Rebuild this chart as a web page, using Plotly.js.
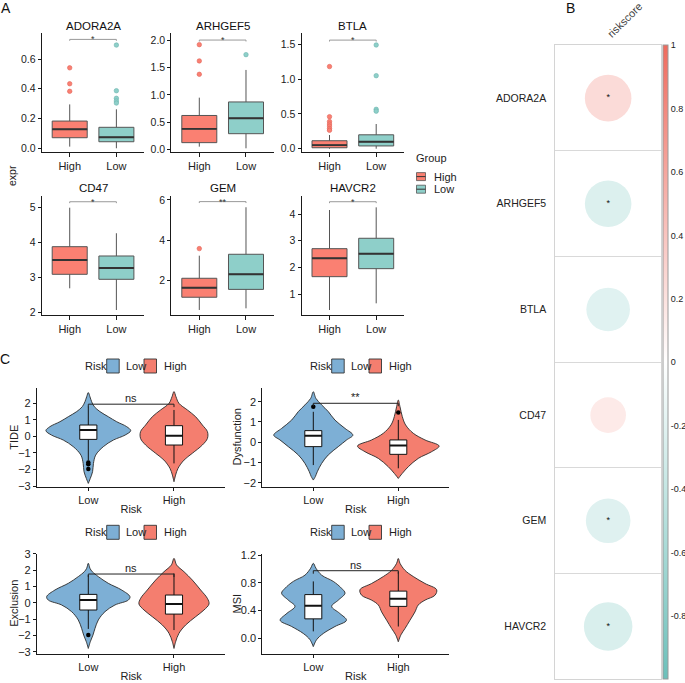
<!DOCTYPE html>
<html><head><meta charset="utf-8">
<script src="https://cdn.plot.ly/plotly-3.0.1.min.js"></script>
<style>html,body{margin:0;padding:0;background:#fff}#plot{width:685px;height:683px}</style>
</head><body><div id="plot"></div><script>
const W=685,H=683;
const FONT='Liberation Sans, Arial, Helvetica, sans-serif';

// ---------- Panel A data ----------
const genes=['ADORA2A','ARHGEF5','BTLA','CD47','GEM','HAVCR2'];
const groups=['High','Low'];
const highQ1=[0.071,0.122,0.014,3.097,1.18,1.65];
const highMed=[0.128,0.374,0.053,3.506,1.65,2.34];
const highQ3=[0.183,0.622,0.115,3.886,2.12,2.70];
const highLo=[0.011,0.048,0.0,2.697,0.55,0.40];
const highHi=[0.295,0.95,0.197,5.0,3.24,4.15];
const highOut=[[0.541,0.434,0.383],[1.926,1.626,1.38],[1.18,0.46,0.39,0.355,0.325,0.29,0.264],[],[3.59],[]];
const lowQ1=[0.044,0.287,0.04,2.954,1.57,1.95];
const lowMed=[0.074,0.571,0.10,3.277,2.32,2.51];
const lowQ3=[0.141,0.871,0.20,3.62,3.31,3.09];
const lowLo=[0.0,0.018,0.0,2.077,0.63,0.65];
const lowHi=[0.262,1.46,0.355,4.27,5.64,4.25];
const lowOut=[[0.694,0.387,0.336,0.318,0.304],[1.742],[1.49,1.049,0.566,0.54],[],[],[]];
const sigA=['*','*','*','*','**','*'];
const sigAY=[0.732,2.01,1.56,5.17,5.92,4.46];

// ---------- Panel B data ----------
const riskCorr=[0.24,-0.24,-0.21,0.14,-0.22,-0.26];
const riskSig=['*','*','','','*','*'];
const corrTicks=[1,0.8,0.6,0.4,0.2,0,-0.2,-0.4,-0.6,-0.8,-1];

// ---------- Panel C data ----------
const cMetrics=['TIDE','Dysfunction','Exclusion','MSI'];
const cGroups=['Low','High'];
const tideLowY=[2.65,2.40,2.10,1.80,1.50,1.19,0.89,0.59,0.35,0.08,-0.22,-0.62,-1.13,-1.63,-2.13,-2.54,-2.84];
const tideLowW=[0,0.019,0.039,0.070,0.136,0.234,0.331,0.448,0.495,0.429,0.292,0.175,0.086,0.060,0.050,0.023,0];
const tideHighY=[2.71,2.40,2.00,1.60,1.19,0.69,0.29,-0.12,-0.52,-1.02,-1.43,-1.93,-2.33,-2.74];
const tideHighW=[0,0.023,0.058,0.156,0.253,0.331,0.39,0.39,0.331,0.214,0.117,0.047,0.019,0];
const dysLowY=[2.49,2.16,1.84,1.51,1.09,0.68,0.35,0.11,-0.22,-0.63,-1.05,-1.46,-1.70,-1.87];
const dysLowW=[0,0.031,0.098,0.176,0.255,0.373,0.465,0.392,0.294,0.176,0.098,0.047,0.024,0];
const dysHighY=[2.08,1.75,1.26,0.85,0.44,0.11,-0.19,-0.47,-0.80,-1.21,-1.54,-1.79];
const dysHighW=[0,0.020,0.047,0.086,0.176,0.314,0.48,0.392,0.235,0.118,0.047,0];
const exLowY=[2.43,2.12,1.91,1.61,1.20,0.79,0.38,0.17,-0.13,-0.54,-1.05,-1.57,-1.98,-2.39,-2.80];
const exLowW=[0,0.019,0.047,0.117,0.233,0.389,0.486,0.467,0.311,0.195,0.117,0.078,0.054,0.023,0];
const exHighY=[2.73,2.32,1.91,1.40,0.79,0.28,-0.07,-0.44,-0.85,-1.36,-1.87,-2.39,-2.80];
const exHighW=[0,0.031,0.117,0.214,0.311,0.389,0.409,0.350,0.253,0.136,0.058,0.019,0];
const msiLowY=[1.08,1.01,0.91,0.82,0.72,0.65,0.55,0.46,0.36,0.26,0.17,0.07,-0.02,-0.12];
const msiLowW=[0,0.031,0.098,0.235,0.333,0.373,0.294,0.216,0.31,0.39,0.255,0.118,0.039,0];
const msiHighY=[1.15,1.08,0.98,0.89,0.79,0.70,0.62,0.55,0.48,0.38,0.26,0.14,0.05,-0.05];
const msiHighW=[0,0.020,0.078,0.176,0.314,0.451,0.431,0.314,0.235,0.196,0.137,0.078,0.031,0];
const lowQ1C=[-0.18,-0.22,-0.44,0.28];
const lowMedC=[0.39,0.32,0.17,0.47];
const lowQ3C=[0.69,0.57,0.52,0.63];
const lowLoC=[-1.45,-1.13,-1.60,0.10];
const lowHiC=[1.80,1.50,1.71,0.82];
const lowOutC=[[-1.58,-1.68,-1.97],[1.75],[-1.98],[]];
const highQ1C=[-0.52,-0.60,-0.69,0.46];
const highMedC=[0.04,-0.17,-0.07,0.57];
const highQ3C=[0.65,0.11,0.48,0.68];
const highLoC=[-1.63,-1.29,-1.67,0.17];
const highHiC=[1.60,1.10,1.81,0.96];
const highOutC=[[],[1.47],[],[]];
const sigC=['ns','**','ns','ns'];
const sigCY=[1.95,1.92,1.77,0.974];

// ---------- styles ----------
const A_COL={High:'#FA8072',Low:'#8ECFC9'};
const A_OUT={High:'#E0645A',Low:'#6DB5AE'};
const C_COL={Low:'#7DAFD5',High:'#F47E6F'};
const INK='#1a1a1a';

const data=[];
const layout={width:W,height:H,margin:{l:0,r:0,t:0,b:0},paper_bgcolor:'#fff',plot_bgcolor:'rgba(0,0,0,0)',
  showlegend:false,font:{family:FONT,size:11,color:'#222'},shapes:[],annotations:[]};
const baseAx={showline:true,linecolor:INK,linewidth:1,ticks:'outside',ticklen:3,tickwidth:1,tickcolor:INK,
  showgrid:false,zeroline:false,fixedrange:true,tickfont:{size:10.5,color:'#222',family:FONT}};
function sfx(n){return n===1?'':String(n);}
function addAxes(n,xpx,ypx,xo,yo){
  layout['xaxis'+sfx(n)]=Object.assign({},baseAx,{domain:[xpx[0]/W,xpx[1]/W],anchor:'y'+sfx(n)},xo);
  layout['yaxis'+sfx(n)]=Object.assign({},baseAx,{domain:[1-ypx[1]/H,1-ypx[0]/H],anchor:'x'+sfx(n)},yo);
}
function ann(text,xpx,ypx,opt){layout.annotations.push(Object.assign({text:text,x:xpx/W,y:1-ypx/H,xref:'paper',yref:'paper',
  xanchor:'center',yanchor:'middle',showarrow:false,font:{size:11,color:'#222',family:FONT}},opt||{}));}

// ---------- Panel A ----------
const AX0=[41.7,171.3,301.5], AW=102.7, AY=[[33,152],[196,315]];
const aRange=[[-0.025,0.775],[-0.05,2.14],[-0.047,1.662],[1.934,5.334],[0.30,6.198],[0.2126,4.675]];
const aDtick=[0.2,0.5,0.5,1,2,1];
const aFmt=['.1f','.1f','.1f','','',''];
genes.forEach((g,i)=>{
  const n=i+1,col=i%3,row=Math.floor(i/3);
  const xpx=[AX0[col],AX0[col]+AW], ypx=AY[row];
  addAxes(n,xpx,ypx,{range:[0.4,2.6],tickvals:[1,2],ticktext:groups,ticklen:4,tickfont:{size:11,color:'#222',family:FONT}},
    {range:aRange[i],dtick:aDtick[i],tick0:0,tickformat:aFmt[i]});
  const xa='x'+sfx(n), ya='y'+sfx(n);
  const st={High:[highQ1,highMed,highQ3,highLo,highHi,highOut],Low:[lowQ1,lowMed,lowQ3,lowLo,lowHi,lowOut]};
  groups.forEach((grp,gi)=>{
    const s=st[grp], pos=gi+1;
    data.push({type:'box',xaxis:xa,yaxis:ya,x:[pos],q1:[s[0][i]],median:[s[1][i]],q3:[s[2][i]],lowerfence:[s[3][i]],upperfence:[s[4][i]],
      width:0.75,whiskerwidth:0,boxpoints:false,fillcolor:A_COL[grp],line:{color:'#555',width:1},hoverinfo:'skip'});
    data.push({type:'scatter',mode:'lines',xaxis:xa,yaxis:ya,x:[pos-0.375,pos+0.375],y:[s[1][i],s[1][i]],line:{color:'#333',width:1.8},hoverinfo:'skip'});
    if(s[5][i].length) data.push({type:'scatter',mode:'markers',xaxis:xa,yaxis:ya,x:s[5][i].map(()=>pos),y:s[5][i],
      marker:{size:4.5,color:A_COL[grp],line:{color:A_OUT[grp],width:0.6}},hoverinfo:'skip'});
  });
  const tip=(aRange[i][1]-aRange[i][0])*0.012;
  layout.shapes.push({type:'path',xref:xa,yref:ya,path:`M1,${sigAY[i]-tip} L1,${sigAY[i]} L2,${sigAY[i]} L2,${sigAY[i]-tip}`,line:{color:'#999',width:1}});
  layout.annotations.push({text:sigA[i],xref:xa,yref:ya,x:1.5,y:sigAY[i],xanchor:'center',yanchor:'top',yshift:7,showarrow:false,font:{size:9,color:'#333',family:FONT}});
  ann(g,(xpx[0]+xpx[1])/2,row===0?26:188,{font:{size:11.5,color:'#111',family:FONT}});
});
ann('expr',12,176,{textangle:-90,font:{size:10.5,color:'#222',family:FONT}});
ann('Group',414,158,{xanchor:'left',font:{size:11,color:'#222',family:FONT}});
groups.forEach((grp,gi)=>{
  const cy=176.6+gi*12.6;
  layout.shapes.push({type:'rect',xref:'paper',yref:'paper',x0:416.5/W,x1:425.5/W,y0:1-(cy+4)/H,y1:1-(cy-4)/H,fillcolor:A_COL[grp],line:{color:'#555',width:0.8}});
  layout.shapes.push({type:'line',xref:'paper',yref:'paper',x0:416.5/W,x1:425.5/W,y0:1-cy/H,y1:1-cy/H,line:{color:'#333',width:1}});
  ann(grp,432.5,cy,{xanchor:'left',font:{size:11,color:'#222',family:FONT}});
});

// ---------- Panel B ----------
const BX=[555.3,661], BY=[45.3,679.3];
const cellPx=(BY[1]-BY[0])/genes.length;
addAxes(7,BX,BY,{range:[0.5,1.5],side:'top',tickvals:[1],ticktext:['riskscore'],tickangle:-45,ticks:'',mirror:true,linecolor:'#D4D4D4',
    tickfont:{size:11,color:'#444',family:FONT}},
  {range:[genes.length+0.5,0.5],tickvals:genes.map((g,i)=>i+1),ticktext:genes,ticks:'',mirror:true,linecolor:'#D4D4D4',ticklabelstandoff:6,
    tickfont:{size:10.5,color:'#222',family:FONT},
    minor:{tickmode:'linear',tick0:0.5,dtick:1,showgrid:true,gridcolor:'#D9D9D9',gridwidth:1,ticks:''}});
data.push({type:'scatter',mode:'markers',xaxis:'x7',yaxis:'y7',x:genes.map(()=>1),y:genes.map((g,i)=>i+1),
  marker:{size:riskCorr.map(r=>cellPx*0.9*Math.sqrt(Math.abs(r))),color:riskCorr,cmin:-1,cmax:1,
    colorscale:[[0,'#6CC0BA'],[0.5,'#FFFFFF'],[1,'#EF6B5E']],line:{width:0},opacity:1,
    colorbar:{x:662.5/W,xanchor:'left',xpad:0,y:1-BY[0]/H,yanchor:'top',ypad:0,len:(BY[1]-BY[0])/H,lenmode:'fraction',
      thickness:4.5,outlinewidth:1,outlinecolor:'#9A9A9A',ticks:'',tickvals:corrTicks,ticktext:corrTicks.map(v=>String(v)),
      tickfont:{size:9,color:'#222',family:FONT},ticklabelstandoff:0}},hoverinfo:'skip'});
data.push({type:'scatter',mode:'text',xaxis:'x7',yaxis:'y7',x:genes.map(()=>1),y:genes.map((g,i)=>i+1),text:riskSig,
  textposition:'middle center',textfont:{size:9,color:'#111',family:FONT},hoverinfo:'skip'});

// ---------- Panel C ----------
const CX=[[36.9,225.4],[262.3,449.3]], CY=[[388.3,486.7],[553.5,653.5]], LEGY=[366,532.3], YTX=[13.3,236];
const cRange=[[-3.04,2.91],[-2.198,2.66],[-3.11,3.03],[-0.219,1.222]];
const cDtick=[1,1,1,0.4];
const cFmt=['','','','.1f'];
const vioY={Low:[tideLowY,dysLowY,exLowY,msiLowY],High:[tideHighY,dysHighY,exHighY,msiHighY]};
const vioW={Low:[tideLowW,dysLowW,exLowW,msiLowW],High:[tideHighW,dysHighW,exHighW,msiHighW]};
const boxC={Low:[lowQ1C,lowMedC,lowQ3C,lowLoC,lowHiC,lowOutC],High:[highQ1C,highMedC,highQ3C,highLoC,highHiC,highOutC]};
const BOXW=0.1;
cMetrics.forEach((m,k)=>{
  const n=8+k,col=k%2,row=Math.floor(k/2);
  addAxes(n,CX[col],CY[row],{range:[0.4,2.6],tickvals:[1,2],ticktext:cGroups,tickfont:{size:11,color:'#222',family:FONT},
      title:{text:'Risk',font:{size:11,color:'#222',family:FONT},standoff:0}},
    {range:cRange[k],dtick:cDtick[k],tick0:0,tickformat:cFmt[k],tickfont:{size:11,color:'#222',family:FONT}});
  ann(m,YTX[col],(CY[row][0]+CY[row][1])/2,{textangle:-90,font:{size:11,color:'#222',family:FONT}});
  const xa='x'+n, ya='y'+n;
  cGroups.forEach((grp,gi)=>{
    const pos=gi+1, ys=vioY[grp][k], ws=vioW[grp][k];
    const px=[],py=[];
    ys.forEach((y,j)=>{px.push(pos+ws[j]);py.push(y);});
    for(let j=ys.length-1;j>=0;j--){px.push(pos-ws[j]);py.push(ys[j]);}
    data.push({type:'scatter',mode:'lines',xaxis:xa,yaxis:ya,x:px,y:py,fill:'toself',fillcolor:C_COL[grp],
      line:{color:'#2a2a2a',width:0.9,shape:'spline',smoothing:1},hoverinfo:'skip'});
    const s=boxC[grp];
    const q1=s[0][k],md=s[1][k],q3=s[2][k],lo=s[3][k],hi=s[4][k];
    data.push({type:'scatter',mode:'lines',xaxis:xa,yaxis:ya,x:[pos,pos,null,pos,pos],y:[q3,hi,null,lo,q1],
      line:{color:'#111',width:1},hoverinfo:'skip'});
    data.push({type:'scatter',mode:'lines',xaxis:xa,yaxis:ya,x:[pos-BOXW,pos+BOXW,pos+BOXW,pos-BOXW,pos-BOXW],y:[q1,q1,q3,q3,q1],
      fill:'toself',fillcolor:'#FFFFFF',line:{color:'#111',width:1},hoverinfo:'skip'});
    data.push({type:'scatter',mode:'lines',xaxis:xa,yaxis:ya,x:[pos-BOXW,pos+BOXW],y:[md,md],line:{color:'#111',width:2},hoverinfo:'skip'});
    if(s[5][k].length) data.push({type:'scatter',mode:'markers',xaxis:xa,yaxis:ya,x:s[5][k].map(()=>pos),y:s[5][k],
      marker:{size:4.5,color:'#000'},hoverinfo:'skip'});
  });
  const tip=(cRange[k][1]-cRange[k][0])*0.03;
  layout.shapes.push({type:'path',xref:xa,yref:ya,path:`M1,${sigCY[k]-tip} L1,${sigCY[k]} L2,${sigCY[k]} L2,${sigCY[k]-tip}`,line:{color:'#222',width:1}});
  layout.annotations.push({text:sigC[k],xref:xa,yref:ya,x:1.5,y:sigCY[k],xanchor:'center',yanchor:'bottom',yshift:-2,showarrow:false,font:{size:11,color:'#222',family:FONT}});
  const ox=col*225, cy=LEGY[row];
  ann('Risk',83.3+ox,cy,{xanchor:'left',font:{size:11,color:'#222',family:FONT}});
  const keyX=[106.7,144], txtX=[124,161.7];
  cGroups.forEach((grp,gi)=>{
    layout.shapes.push({type:'rect',xref:'paper',yref:'paper',x0:(keyX[gi]+ox)/W,x1:(keyX[gi]+12.5+ox)/W,y0:1-(cy+7)/H,y1:1-(cy-7)/H,
      fillcolor:C_COL[grp],line:{color:'#333',width:0.9}});
    ann(grp,txtX[gi]+ox,cy,{xanchor:'left',font:{size:11,color:'#222',family:FONT}});
  });
});

ann('A',6,8,{font:{size:14,color:'#111',family:FONT}});
ann('B',570,8,{font:{size:14,color:'#111',family:FONT}});
ann('C',5,359,{font:{size:14,color:'#111',family:FONT}});

Plotly.newPlot('plot',data,layout,{staticPlot:true,displayModeBar:false});
</script></body></html>
